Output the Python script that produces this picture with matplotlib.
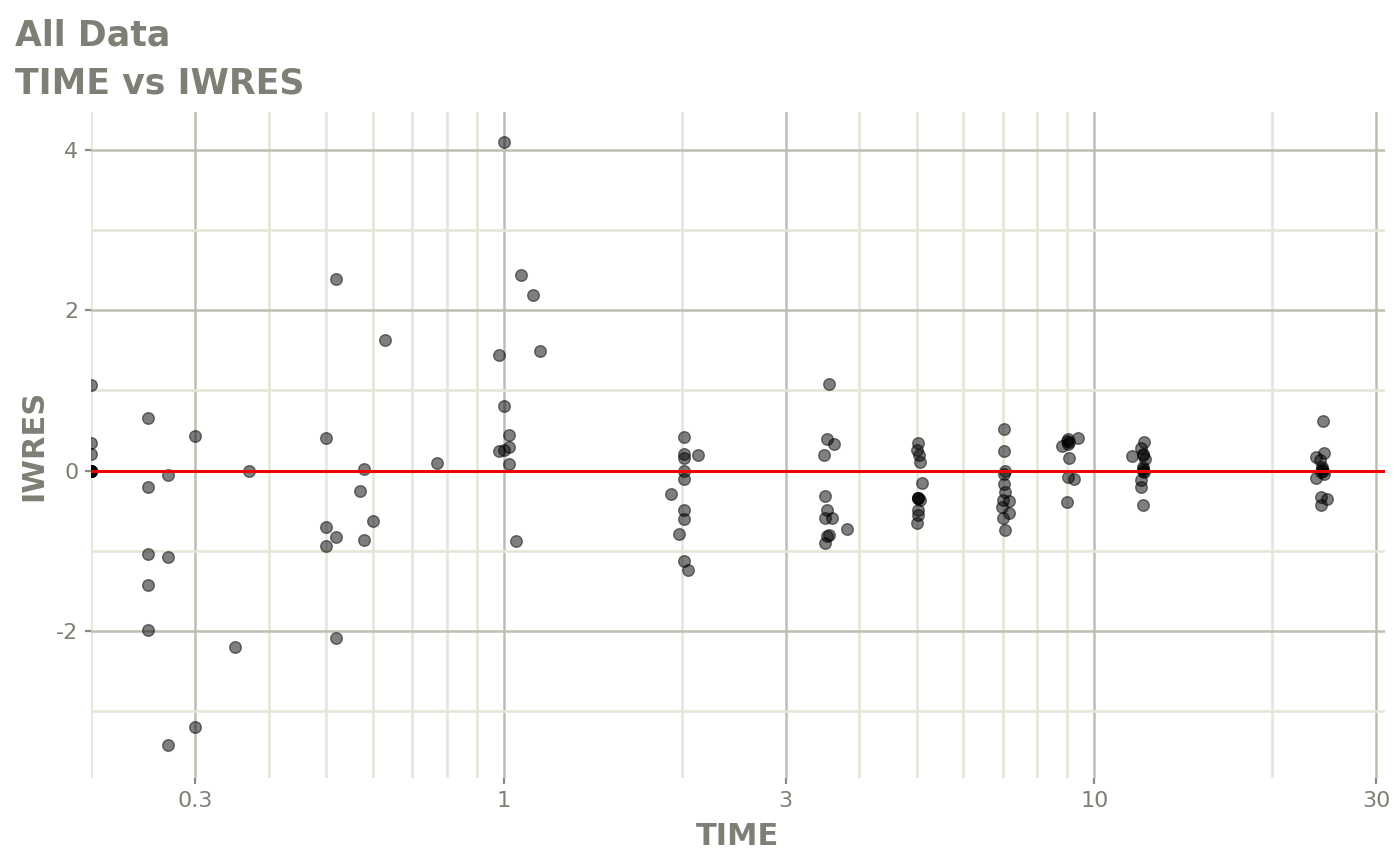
import matplotlib
matplotlib.use("Agg")
import matplotlib.pyplot as plt
import numpy as np
from matplotlib.ticker import FixedLocator, NullFormatter

plt.rcParams["axes.unicode_minus"] = False

# TIME / IWRES pairs, column by column
time = [
    0.2, 0.2, 0.2, 0.2, 0.2, 0.2, 0.2, 0.2, 0.2,
    0.25, 0.25, 0.25, 0.25, 0.25,
    0.27, 0.27, 0.27,
    0.30, 0.30,
    0.35, 0.37,
    0.50, 0.50, 0.50,
    0.52, 0.52, 0.52,
    0.57, 0.58, 0.58, 0.60, 0.63, 0.77,
    0.98, 0.98, 1.00, 1.00, 1.00, 1.02, 1.02, 1.02, 1.05, 1.07, 1.12, 1.15,
    2.02, 2.02, 2.02, 2.13, 2.02, 2.02, 1.92, 2.02, 2.02, 1.98, 2.02, 2.05,
    3.55, 3.52, 3.62, 3.48, 3.50, 3.53, 3.50, 3.60, 3.81, 3.56, 3.53, 3.50,
    5.02, 5.00, 5.05, 5.07, 5.10, 5.03, 5.03, 5.03, 5.06, 5.02, 5.02, 5.00,
    7.03, 7.03, 7.05, 7.03, 7.03, 7.07, 7.18, 7.01, 6.98, 7.16, 6.99, 7.07,
    9.39, 9.03, 9.00, 9.06, 9.03, 8.82, 9.06, 9.03, 9.22, 9.00,
    12.12, 12.00, 12.09, 12.09, 11.60, 12.17, 12.09, 12.09, 12.09, 12.12,
    12.00, 12.00, 12.09,
    24.39, 24.45, 23.77, 24.10, 24.24, 24.34, 24.30, 24.20, 24.45, 23.71,
    24.15, 24.74, 24.15,
]
iwres = [
    1.07, 0.35, 0.21, 0.0, 0.0, 0.0, 0.0, 0.0, 0.0,
    0.66, -0.20, -1.04, -1.42, -1.98,
    -0.06, -1.08, -3.42,
    0.43, -3.19,
    -2.20, 0.0,
    0.41, -0.70, -0.94,
    2.39, -0.83, -2.08,
    -0.25, 0.02, -0.86, -0.63, 1.63, 0.10,
    1.44, 0.24, 4.10, 0.80, 0.26, 0.45, 0.30, 0.08, -0.88, 2.44, 2.19, 1.49,
    0.42, 0.21, 0.16, 0.20, 0.0, -0.10, -0.29, -0.49, -0.60, -0.79, -1.13, -1.24,
    1.08, 0.39, 0.33, 0.20, -0.31, -0.49, -0.59, -0.59, -0.73, -0.80, -0.81, -0.90,
    0.34, 0.26, 0.20, 0.11, -0.15, -0.34, -0.34, -0.34, -0.36, -0.49, -0.55, -0.65,
    0.52, 0.25, 0.0, -0.04, -0.17, -0.26, -0.38, -0.37, -0.45, -0.53, -0.59, -0.74,
    0.41, 0.39, 0.37, 0.36, 0.33, 0.31, 0.16, -0.08, -0.11, -0.39,
    0.36, 0.28, 0.21, 0.19, 0.18, 0.14, 0.05, 0.02, 0.0, -0.02,
    -0.12, -0.20, -0.43,
    0.62, 0.22, 0.17, 0.13, 0.04, 0.0, 0.02, -0.02, -0.04, -0.09,
    -0.33, -0.35, -0.43,
]

x_major = [0.3, 1, 3, 10, 30]
x_labels = ["0.3", "1", "3", "10", "30"]
x_minor = [0.2, 0.4, 0.5, 0.6, 0.7, 0.8, 0.9, 2, 4, 5, 6, 7, 8, 9, 20]
y_major = [-2, 0, 2, 4]
y_minor = [-3, -1, 1, 3]

grey_text = "#7f7f75"
major_col = "#bebeb1"
minor_col = "#e6e6d8"

fig = plt.figure(figsize=(14, 8.66), dpi=100)
ax = fig.add_axes([0.065, 0.1016, 0.924, 0.7691])

ax.set_xscale("log")
ax.set_xlim(0.2, 31)
ax.set_ylim(-3.83, 4.47)

ax.xaxis.set_major_locator(FixedLocator(x_major))
ax.xaxis.set_minor_locator(FixedLocator(x_minor))
ax.set_xticklabels(x_labels)
ax.xaxis.set_minor_formatter(NullFormatter())
ax.yaxis.set_major_locator(FixedLocator(y_major))
ax.yaxis.set_minor_locator(FixedLocator(y_minor))

ax.grid(True, which="minor", color=minor_col, linewidth=1.9)
ax.grid(True, which="major", color=major_col, linewidth=1.8)
ax.set_axisbelow(True)

for s in ax.spines.values():
    s.set_visible(False)

ax.tick_params(which="major", length=4, width=1.6, color="#8a8a80",
               labelsize=16, labelcolor=grey_text, pad=5)
ax.tick_params(which="minor", length=0)

ax.scatter(time, iwres, s=70, color="black", alpha=0.5, edgecolors="black",
           linewidths=1.0, zorder=3)
ax.axhline(0, color="#ee0000", linewidth=2.2, zorder=4)

ax.set_xlabel("TIME", fontsize=22, fontweight="bold", color=grey_text, labelpad=8)
ax.set_ylabel("IWRES", fontsize=22, fontweight="bold", color=grey_text, labelpad=6)

fig.text(15 / 1400, 1 - 46 / 866, "All Data", fontsize=25, fontweight="bold",
         color=grey_text, ha="left", va="baseline")
fig.text(15 / 1400, 1 - 93 / 866, "TIME vs IWRES", fontsize=25, fontweight="bold",
         color=grey_text, ha="left", va="baseline")

plt.savefig("out.png", dpi=100)
plt.close()
